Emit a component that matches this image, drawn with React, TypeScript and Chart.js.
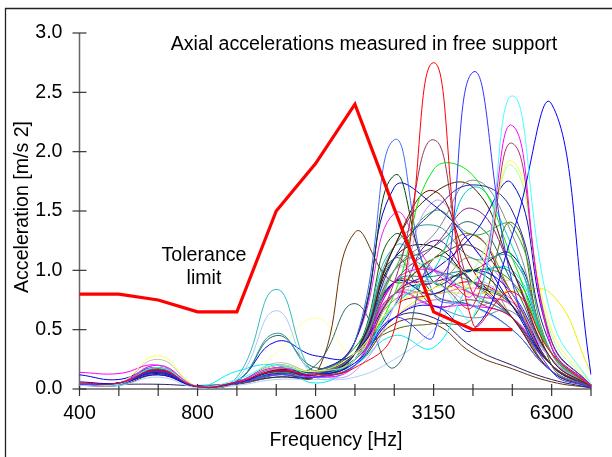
import React, { useEffect, useRef } from "react";
import { Chart, registerables } from "chart.js";

Chart.register(...registerables);

const categories = ["400", "500", "630", "800", "1000", "1250", "1600", "2000", "2500", "3150", "4000", "5000", "6300", "8000"];
const shownTickLabels = ["400", "800", "1600", "3150", "6300"];
const yTicks = [0, 0.5, 1.0, 1.5, 2.0, 2.5, 3.0];

const toleranceLimit = [0.8, 0.8, 0.75, 0.65, 0.65, 1.5, 1.9, 2.4, 1.52, 0.65, 0.5, 0.5, null, null];

const seriesColors = [
  "#ff0000", "#3333ff", "#44ffff", "#0000ff", "#ff00ff", "#aa3366", "#ffff44", "#aaffaa",
  "#0000cc", "#2222aa", "#888888", "#00ee00", "#442200", "#00cccc", "#4466ff", "#993355",
  "#004400", "#0000dd", "#880000", "#bb99ff", "#33aa33", "#ee22ee", "#882288", "#339999",
  "#663300", "#336666", "#33bbbb", "#aaccee", "#2a9a9a", "#226666", "#0000ee", "#ffff99",
  "#ff00ff", "#00eeee", "#aaccff", "#222266", "#663311", "#eeee00", "#888800", "#000000",
  "#556600", "#ffaaff", "#ff6666", "#00aa00", "#6688aa", "#6600aa", "#990066", "#aa8855",
  "#bbbbbb", "#008888", "#000080", "#cc0000", "#555555", "#cc66cc", "#006600",
];

const seriesValues: number[][] = [
  [0.05, 0.05, 0.16, 0.02, 0.06, 0.15, 0.12, 0.18, 0.5, 2.75, 0.55, 0.82, 0.3, 0.02],
  [0.04, 0.05, 0.15, 0.02, 0.05, 0.12, 0.1, 0.2, 0.6, 0.45, 2.67, 0.9, 0.15, 0.01],
  [0.05, 0.04, 0.18, 0.02, 0.08, 0.2, 0.12, 0.2, 0.7, 0.9, 0.6, 2.47, 0.6, 0.04],
  [0.06, 0.05, 0.12, 0.02, 0.05, 0.15, 0.12, 0.22, 0.6, 0.7, 0.5, 1.3, 2.4, 0.12],
  [0.04, 0.05, 0.2, 0.02, 0.06, 0.18, 0.1, 0.2, 0.9, 1.0, 0.8, 2.22, 0.35, 0.03],
  [0.05, 0.05, 0.17, 0.02, 0.05, 0.15, 0.12, 0.2, 0.8, 0.9, 0.7, 2.07, 0.4, 0.03],
  [0.06, 0.05, 0.28, 0.02, 0.05, 0.2, 0.15, 0.3, 0.7, 0.85, 0.9, 1.92, 0.5, 0.05],
  [0.04, 0.05, 0.2, 0.02, 0.06, 0.18, 0.15, 0.25, 0.8, 1.1, 1.0, 1.88, 0.45, 0.04],
  [0.05, 0.05, 0.16, 0.02, 0.05, 0.18, 0.15, 0.3, 0.8, 1.0, 1.3, 1.73, 0.4, 0.03],
  [0.04, 0.04, 0.14, 0.02, 0.05, 0.15, 0.12, 0.3, 1.1, 1.5, 1.72, 1.5, 0.35, 0.03],
  [0.05, 0.05, 0.2, 0.02, 0.05, 0.2, 0.15, 0.3, 1.0, 1.3, 1.76, 1.3, 0.3, 0.03],
  [0.05, 0.05, 0.17, 0.02, 0.06, 0.18, 0.15, 0.3, 0.8, 1.85, 1.8, 1.1, 0.3, 0.03],
  [0.05, 0.05, 0.15, 0.02, 0.05, 0.16, 0.15, 0.3, 1.2, 1.65, 1.7, 1.0, 0.25, 0.02],
  [0.04, 0.05, 0.15, 0.02, 0.05, 0.14, 0.12, 0.25, 0.7, 1.0, 1.7, 1.2, 0.3, 0.03],
  [0.05, 0.05, 0.18, 0.02, 0.06, 0.2, 0.15, 0.4, 2.1, 0.8, 0.7, 0.5, 0.15, 0.02],
  [0.05, 0.05, 0.15, 0.02, 0.05, 0.15, 0.12, 0.3, 0.9, 2.1, 0.8, 0.6, 0.2, 0.02],
  [0.05, 0.05, 0.16, 0.02, 0.05, 0.15, 0.15, 0.4, 1.8, 0.9, 1.0, 0.7, 0.2, 0.02],
  [0.05, 0.05, 0.14, 0.02, 0.06, 0.2, 0.15, 0.4, 1.7, 1.55, 1.2, 0.7, 0.2, 0.02],
  [0.05, 0.05, 0.16, 0.02, 0.05, 0.15, 0.12, 0.3, 1.2, 1.67, 1.0, 0.6, 0.15, 0.02],
  [0.04, 0.04, 0.14, 0.02, 0.05, 0.12, 0.1, 0.15, 0.7, 1.58, 1.2, 0.8, 0.25, 0.02],
  [0.05, 0.05, 0.15, 0.02, 0.05, 0.15, 0.12, 0.3, 1.0, 1.5, 1.3, 1.37, 0.3, 0.02],
  [0.04, 0.05, 0.17, 0.02, 0.05, 0.16, 0.14, 0.4, 1.48, 1.0, 0.8, 0.7, 0.2, 0.02],
  [0.05, 0.05, 0.16, 0.02, 0.05, 0.15, 0.12, 0.3, 0.9, 1.2, 1.52, 1.0, 0.25, 0.02],
  [0.04, 0.05, 0.18, 0.02, 0.05, 0.16, 0.14, 0.3, 1.2, 1.38, 1.1, 1.1, 0.3, 0.02],
  [0.05, 0.05, 0.15, 0.02, 0.05, 0.15, 0.12, 1.32, 0.9, 1.1, 1.2, 0.8, 0.2, 0.02],
  [0.04, 0.05, 0.15, 0.02, 0.05, 0.12, 0.2, 0.72, 0.18, 1.1, 0.9, 0.6, 0.15, 0.02],
  [0.04, 0.05, 0.18, 0.02, 0.1, 0.84, 0.12, 0.3, 1.2, 1.0, 0.8, 0.6, 0.2, 0.02],
  [0.04, 0.05, 0.16, 0.02, 0.08, 0.66, 0.1, 0.25, 1.0, 0.9, 0.7, 0.5, 0.15, 0.02],
  [0.05, 0.05, 0.17, 0.02, 0.06, 0.47, 0.15, 0.3, 1.1, 1.0, 0.9, 0.7, 0.2, 0.02],
  [0.05, 0.05, 0.16, 0.02, 0.06, 0.45, 0.18, 0.3, 1.0, 1.2, 1.4, 0.9, 0.25, 0.02],
  [0.12, 0.08, 0.18, 0.02, 0.07, 0.4, 0.28, 0.3, 0.9, 0.8, 1.0, 0.8, 0.2, 0.02],
  [0.05, 0.05, 0.2, 0.02, 0.05, 0.3, 0.6, 0.3, 0.8, 0.9, 0.85, 0.7, 0.2, 0.02],
  [0.14, 0.13, 0.2, 0.02, 0.05, 0.15, 0.12, 0.3, 0.8, 0.7, 0.7, 0.6, 0.2, 0.02],
  [0.04, 0.04, 0.15, 0.02, 0.15, 0.2, 0.05, 0.2, 0.45, 0.35, 0.9, 1.0, 0.3, 0.02],
  [0.03, 0.03, 0.1, 0.01, 0.03, 0.08, 0.08, 0.1, 0.25, 0.5, 0.9, 0.7, 0.25, 0.02],
  [0.04, 0.04, 0.04, 0.03, 0.05, 0.1, 0.1, 0.25, 0.6, 0.6, 0.35, 0.2, 0.08, 0.01],
  [0.03, 0.03, 0.12, 0.02, 0.04, 0.1, 0.1, 0.2, 0.55, 0.55, 0.3, 0.17, 0.06, 0.01],
  [0.05, 0.05, 0.18, 0.02, 0.05, 0.15, 0.12, 0.2, 0.6, 0.8, 0.8, 0.82, 0.8, 0.14],
  [0.05, 0.05, 0.15, 0.02, 0.05, 0.15, 0.12, 0.25, 0.8, 1.1, 1.3, 0.8, 0.2, 0.02],
  [0.05, 0.05, 0.15, 0.02, 0.05, 0.14, 0.12, 0.25, 1.1, 1.2, 0.9, 0.7, 0.2, 0.02],
  [0.04, 0.05, 0.14, 0.02, 0.05, 0.12, 0.12, 0.3, 0.5, 0.55, 0.6, 1.4, 0.2, 0.02],
  [0.04, 0.05, 0.18, 0.02, 0.05, 0.16, 0.12, 0.3, 0.7, 1.0, 0.8, 0.9, 0.3, 0.02],
  [0.05, 0.05, 0.17, 0.02, 0.05, 0.17, 0.14, 0.25, 0.8, 0.8, 0.85, 0.75, 0.25, 0.02],
  [0.05, 0.05, 0.16, 0.02, 0.05, 0.15, 0.14, 0.35, 0.9, 0.8, 1.0, 0.9, 0.3, 0.02],
  [0.04, 0.04, 0.15, 0.02, 0.05, 0.14, 0.1, 0.25, 0.8, 0.7, 0.6, 0.65, 0.2, 0.02],
  [0.04, 0.05, 0.14, 0.02, 0.05, 0.13, 0.12, 0.3, 0.7, 1.25, 0.9, 0.6, 0.2, 0.02],
  [0.05, 0.05, 0.15, 0.02, 0.05, 0.15, 0.13, 0.25, 0.9, 0.9, 1.3, 0.75, 0.25, 0.02],
  [0.05, 0.05, 0.2, 0.02, 0.05, 0.2, 0.12, 0.3, 0.75, 0.85, 1.1, 0.6, 0.2, 0.02],
  [0.05, 0.05, 0.25, 0.02, 0.06, 0.22, 0.15, 0.3, 1.0, 1.0, 0.8, 0.7, 0.25, 0.02],
  [0.04, 0.05, 0.16, 0.02, 0.05, 0.15, 0.12, 0.3, 0.9, 0.95, 1.0, 0.97, 0.3, 0.02],
  [0.04, 0.05, 0.13, 0.02, 0.05, 0.12, 0.1, 0.25, 0.8, 0.9, 1.0, 1.13, 0.3, 0.02],
  [0.05, 0.05, 0.14, 0.02, 0.05, 0.13, 0.12, 0.25, 0.7, 0.8, 0.9, 0.7, 0.2, 0.02],
  [0.05, 0.05, 0.15, 0.02, 0.05, 0.14, 0.12, 0.3, 1.1, 0.7, 0.75, 0.6, 0.15, 0.01],
  [0.04, 0.05, 0.18, 0.02, 0.05, 0.15, 0.13, 0.25, 0.6, 0.75, 0.7, 0.73, 0.25, 0.02],
  [0.05, 0.05, 0.15, 0.02, 0.05, 0.14, 0.12, 0.3, 1.3, 0.8, 0.7, 0.5, 0.15, 0.02],
];

const FONT = "Liberation Sans, Arial, sans-serif";
const FSIZE = 19.6;

const decor = {
  id: "decor",
  beforeDatasetsDraw(chart: any) {
    const { ctx, chartArea } = chart;
    const { left, right, top, bottom } = chartArea;
    const x = chart.scales.x;
    const y = chart.scales.y;
    ctx.save();
    ctx.strokeStyle = "#666";
    ctx.lineWidth = 1.5;
    ctx.beginPath();
    ctx.moveTo(left, top);
    ctx.lineTo(left, bottom);
    ctx.lineTo(right, bottom);
    ctx.stroke();
    ctx.strokeStyle = "#333";
    ctx.lineWidth = 1.2;
    y.ticks.forEach((_t: any, i: number) => {
      const py = y.getPixelForTick(i);
      ctx.beginPath();
      ctx.moveTo(left - 7, py);
      ctx.lineTo(left + 7, py);
      ctx.stroke();
    });
    x.ticks.forEach((_t: any, i: number) => {
      const px = x.getPixelForTick(i);
      ctx.beginPath();
      ctx.moveTo(px, bottom - 5);
      ctx.lineTo(px, bottom + 7);
      ctx.stroke();
    });
    ctx.restore();
  },
  afterDraw(chart: any) {
    const { ctx } = chart;
    ctx.save();
    ctx.strokeStyle = "#222";
    ctx.lineWidth = 1.3;
    ctx.beginPath();
    ctx.moveTo(5.5, 470);
    ctx.lineTo(5.5, 8.5);
    ctx.lineTo(620, 8.5);
    ctx.stroke();
    ctx.fillStyle = "#000";
    ctx.font = `${FSIZE}px ${FONT}`;
    ctx.textAlign = "center";
    ctx.textBaseline = "middle";
    ctx.fillText("Axial accelerations measured in free support", 364, 45);
    ctx.fillText("Tolerance", 204, 256);
    ctx.fillText("limit", 204, 279);
    ctx.fillText("Frequency [Hz]", 336, 441);
    ctx.translate(23, 207);
    ctx.rotate(-Math.PI / 2);
    ctx.fillText("Acceleration [m/s 2]", 0, 0);
    ctx.restore();
  },
};

export default function App() {
  const canvasRef = useRef<HTMLCanvasElement | null>(null);

  useEffect(() => {
    if (!canvasRef.current) return;
    const datasets: any[] = [
      {
        label: "Tolerance limit",
        data: toleranceLimit,
        borderColor: "#ff0000",
        borderWidth: 3.2,
        tension: 0,
        pointRadius: 0,
        fill: false,
      },
      ...seriesValues.map((vals, i) => ({
        label: `s${i + 1}`,
        data: vals,
        borderColor: seriesColors[i % seriesColors.length],
        borderWidth: 1,
        tension: 0.45,
        pointRadius: 0,
        fill: false,
      })),
    ];
    const chart = new Chart(canvasRef.current, {
      type: "line",
      data: { labels: categories, datasets },
      options: {
        animation: false,
        responsive: false,
        maintainAspectRatio: false,
        layout: { padding: { left: 0, right: 21, top: 33, bottom: 0 } },
        plugins: { legend: { display: false }, tooltip: { enabled: false }, title: { display: false } },
        scales: {
          x: {
            type: "category",
            offset: false,
            grid: { display: false },
            border: { display: false },
            afterFit: (s: any) => {
              s.height = 68;
            },
            ticks: {
              autoSkip: false,
              maxRotation: 0,
              minRotation: 0,
              padding: 5,
              color: "#000",
              font: { family: FONT, size: FSIZE },
              callback: function (_v: any, i: number) {
                const lab = categories[i];
                return shownTickLabels.includes(lab) ? lab : "";
              },
            },
          },
          y: {
            min: 0,
            max: 3,
            grid: { display: false },
            border: { display: false },
            afterFit: (s: any) => {
              s.width = 79.5;
            },
            afterBuildTicks: (s: any) => {
              s.ticks = yTicks.map((v) => ({ value: v }));
            },
            ticks: {
              padding: 9,
              color: "#000",
              font: { family: FONT, size: FSIZE },
              callback: (v: any) => Number(v).toFixed(1),
            },
          },
        },
      },
      plugins: [decor],
    });
    return () => chart.destroy();
  }, []);

  return (
    <div style={{ position: "fixed", left: 0, top: 0, width: 612, height: 457, background: "#fff" }}>
      <canvas ref={canvasRef} width={612} height={457} style={{ width: 612, height: 457, display: "block" }} />
    </div>
  );
}
